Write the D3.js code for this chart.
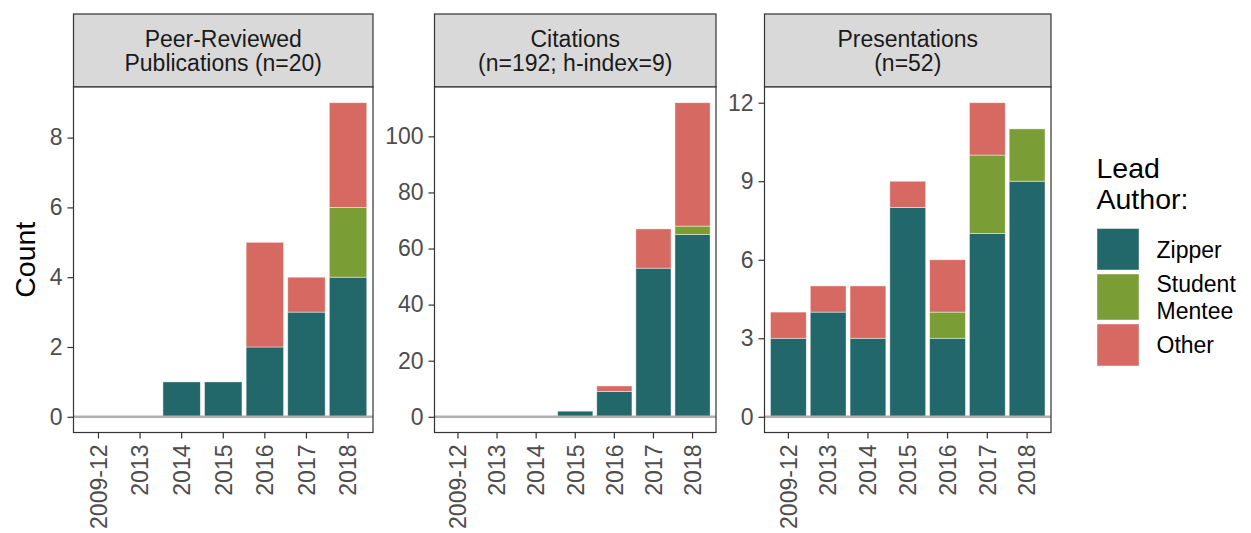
<!DOCTYPE html>
<html>
<head>
<meta charset="utf-8">
<script src="https://cdn.jsdelivr.net/npm/d3@7"></script>
<style>
  html, body { margin: 0; padding: 0; background: #fff; }
  svg text { font-family: "Liberation Sans", Arial, sans-serif; }
</style>
</head>
<body>
<svg id="chart" width="1251" height="533"></svg>
<script>
// ---------- data ----------
const years = ["2009-12", "2013", "2014", "2015", "2016", "2017", "2018"];
const groups = ["Zipper", "Student Mentee", "Other"];
const groupLabels = [["Zipper"], ["Student", "Mentee"], ["Other"]];
const groupColors = ["#22676A", "#7A9E35", "#D66A62"];

const pubZipper  = [0, 0, 1, 1, 2, 3, 4];
const pubStudent = [0, 0, 0, 0, 0, 0, 2];
const pubOther   = [0, 0, 0, 0, 3, 1, 3];

const citZipper  = [0, 0, 0, 2, 9, 53, 65];
const citStudent = [0, 0, 0, 0, 0, 0, 3];
const citOther   = [0, 0, 0, 0, 2, 14, 44];

const presZipper  = [3, 4, 3, 8, 3, 7, 9];
const presStudent = [0, 0, 0, 0, 1, 3, 2];
const presOther   = [1, 1, 2, 1, 2, 2, 0];

const pubTicks  = [0, 2, 4, 6, 8];
const citTicks  = [0, 20, 40, 60, 80, 100];
const presTicks = [0, 3, 6, 9, 12];

const panelTitles = [
  ["Peer-Reviewed", "Publications (n=20)"],
  ["Citations", "(n=192; h-index=9)"],
  ["Presentations", "(n=52)"]
];

// ---------- layout ----------
const svg = d3.select("#chart");
const stripTop = 14, panelTop = 87, panelBottom = 432.5;
const panelsX = [[73.5, 373], [434.5, 716], [764.5, 1051]];
const smallFont = 23, bigFont = 28.5;

const panels = [
  { title: panelTitles[0], z: pubZipper,  s: pubStudent,  o: pubOther,  ticks: pubTicks },
  { title: panelTitles[1], z: citZipper,  s: citStudent,  o: citOther,  ticks: citTicks },
  { title: panelTitles[2], z: presZipper, s: presStudent, o: presOther, ticks: presTicks }
];

panels.forEach((p, i) => {
  const [x0, x1] = panelsX[i];
  const rows = years.map((yr, j) => ({ year: yr, "Zipper": p.z[j], "Student Mentee": p.s[j], "Other": p.o[j] }));
  const stacked = d3.stack().keys(groups)(rows);
  const maxV = d3.max(rows, r => r["Zipper"] + r["Student Mentee"] + r["Other"]);

  const x = d3.scaleBand().domain(years).range([x0, x1]).paddingInner(0.1).paddingOuter(0.15);
  const y = d3.scaleLinear().domain([-0.05 * maxV, 1.05 * maxV]).range([panelBottom, panelTop]);

  const g = svg.append("g");

  // strip
  g.append("rect").attr("x", x0).attr("y", stripTop).attr("width", x1 - x0).attr("height", panelTop - stripTop)
    .attr("fill", "#D9D9D9").attr("stroke", "#333333").attr("stroke-width", 1.2);
  const cx = (x0 + x1) / 2, cy = (stripTop + panelTop) / 2;
  p.title.forEach((line, k) => {
    g.append("text").attr("x", cx).attr("y", cy + (k - 0.5) * 24.5).attr("dy", "0.36em")
      .attr("text-anchor", "middle").attr("font-size", smallFont).attr("fill", "#1A1A1A").text(line);
  });

  // panel background
  g.append("rect").attr("x", x0).attr("y", panelTop).attr("width", x1 - x0).attr("height", panelBottom - panelTop)
    .attr("fill", "#fff");

  // bars
  stacked.forEach((layer, li) => {
    g.append("g").selectAll("rect").data(layer.filter(d => d[1] - d[0] > 0)).join("rect")
      .attr("x", d => x(d.data.year))
      .attr("width", x.bandwidth())
      .attr("y", d => y(d[1]))
      .attr("height", d => y(d[0]) - y(d[1]))
      .attr("fill", groupColors[li])
      .attr("stroke", "#ffffff").attr("stroke-opacity", 0.55).attr("stroke-width", 0.8);
  });

  // zero line
  g.append("line").attr("x1", x0).attr("x2", x1).attr("y1", y(0)).attr("y2", y(0))
    .attr("stroke", "#B0B0B0").attr("stroke-width", 2.5);

  // panel border
  g.append("rect").attr("x", x0).attr("y", panelTop).attr("width", x1 - x0).attr("height", panelBottom - panelTop)
    .attr("fill", "none").attr("stroke", "#333333").attr("stroke-width", 1.2);

  // y axis
  const ya = g.append("g").attr("transform", `translate(${x0},0)`)
    .call(d3.axisLeft(y).tickValues(p.ticks).tickSize(6).tickPadding(5).tickFormat(d3.format("d")));
  ya.select(".domain").remove();
  ya.selectAll(".tick line").attr("stroke", "#333333").attr("stroke-width", 1.2);
  ya.selectAll(".tick text").attr("font-size", smallFont).attr("fill", "#4D4D4D")
    .attr("font-family", "Liberation Sans, Arial, sans-serif");

  // x axis
  const xa = g.append("g").attr("transform", `translate(0,${panelBottom})`)
    .call(d3.axisBottom(x).tickSize(6).tickPadding(0));
  xa.select(".domain").remove();
  xa.selectAll(".tick line").attr("stroke", "#333333").attr("stroke-width", 1.2);
  xa.selectAll(".tick text").attr("font-size", smallFont).attr("fill", "#4D4D4D")
    .attr("font-family", "Liberation Sans, Arial, sans-serif")
    .attr("text-anchor", "end")
    .attr("transform", "translate(0,12) rotate(-90)")
    .attr("x", 0).attr("y", 0).attr("dy", "0.36em");
});

// y title
svg.append("text").attr("transform", `translate(34.5,${(panelTop + panelBottom) / 2}) rotate(-90)`)
  .attr("text-anchor", "middle").attr("font-size", bigFont).attr("fill", "#000").text("Count");

// legend
const lg = svg.append("g");
lg.append("text").attr("x", 1096.5).attr("y", 177.5).attr("font-size", bigFont).attr("fill", "#000").text("Lead");
lg.append("text").attr("x", 1096.5).attr("y", 208.5).attr("font-size", bigFont).attr("fill", "#000").text("Author:");
const keyBoxes = [[228.5, 270], [274, 320], [324, 366]];
groups.forEach((grp, i) => {
  const [ky0, ky1] = keyBoxes[i];
  lg.append("rect").attr("x", 1097).attr("y", ky0).attr("width", 42).attr("height", ky1 - ky0)
    .attr("fill", groupColors[i]).attr("stroke", "#ffffff").attr("stroke-opacity", 0.55).attr("stroke-width", 0.8);
  const lines = groupLabels[i];
  const mid = (ky0 + ky1) / 2;
  lines.forEach((ln, k) => {
    lg.append("text").attr("x", 1156.5).attr("y", mid + (k - (lines.length - 1) / 2) * 26.5).attr("dy", "0.36em")
      .attr("font-size", smallFont).attr("fill", "#000").text(ln);
  });
});
</script>
</body>
</html>
